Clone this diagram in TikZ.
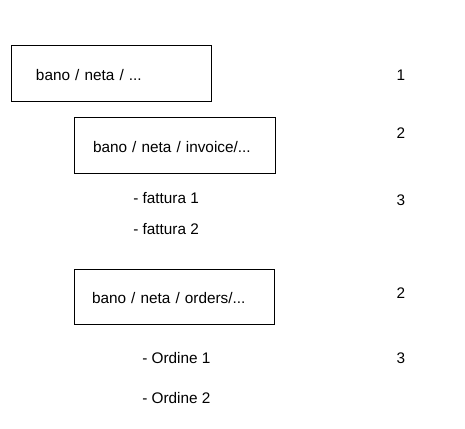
\documentclass[tikz,border=0pt]{standalone}
\usepackage{fontspec}
\setmainfont{Liberation Sans}
\usepackage{tikz}
\usetikzlibrary{positioning}

\begin{document}
\begin{tikzpicture}[x = .75pt, y = -.75pt, font=\fontsize{11.5pt}{13.5pt}\selectfont,
  pathbox/.style={draw, line width = .75pt, rectangle, align = left, minimum height = 42pt, inner ysep = 0pt, text height = 12pt, text depth = 1pt},
  item/.style={anchor = west, inner sep = 0pt}]
\useasboundingbox (0,0) rectangle (465,429);
\node[pathbox, inner xsep = 18.75pt, text width = 112.5pt] (root) at (111,73) {bano / neta / ...};
\node[pathbox, inner xsep = 14.25pt, text width = 122.25pt] (invoice) at (174.5,145) {bano / neta / invoice/...};
\node[pathbox, inner xsep = 13.5pt, text width = 123pt, minimum height = 41.25pt] (orders) at (174,296.5) {bano / neta / orders/...};
\node[item] (fatt1) at (133,198) {- fattura 1};
\node[item] (fatt2) at (133,229) {- fattura 2};
\node[item] (ord1) at (142,358) {- Ordine 1};
\node[item] (ord2) at (142,398) {- Ordine 2};
\foreach \y/\n in {75/1, 133/2, 200/3, 293/2, 358/3}{\node (lvl-\y) at (401,\y) {\n};}
\end{tikzpicture}
\end{document}
